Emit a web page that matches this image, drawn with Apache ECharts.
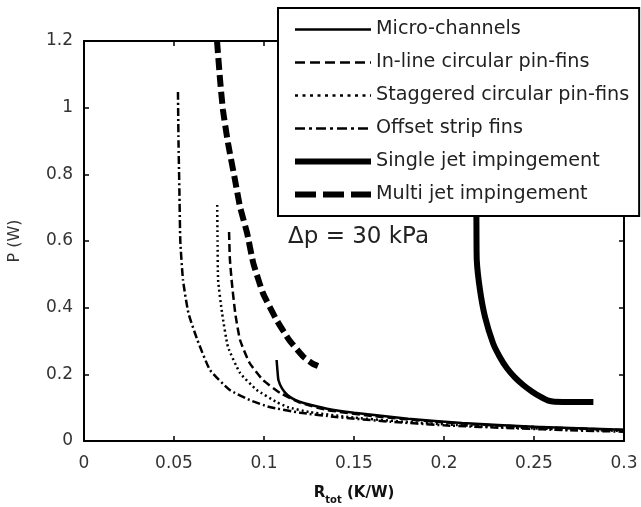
<!DOCTYPE html>
<html>
<head>
<meta charset="utf-8">
<script src="https://cdn.jsdelivr.net/npm/echarts@6/dist/echarts.min.js"></script>
<style>html,body{margin:0;padding:0;background:#fff;}#c{width:641px;height:507px;}</style>
</head>
<body>
<div id="c"></div>
<script>
// Tick labels
var xTicks = [0, 0.05, 0.1, 0.15, 0.2, 0.25, 0.3];
var yTicks = [0, 0.2, 0.4, 0.6, 0.8, 1, 1.2];

// Series names
var seriesNames = ['Micro-channels', 'In-line circular pin-fins', 'Staggered circular pin-fins',
  'Offset strip fins', 'Single jet impingement', 'Multi jet impingement'];

// Series values [R_tot (K/W), P (W)]
var microChannels = [[0.107,0.243],[0.1075,0.21],[0.108,0.183],[0.11,0.158],[0.113,0.138],[0.117,0.124],[0.122,0.114],[0.135,0.097],[0.15,0.085],[0.18,0.067],[0.21,0.054],[0.25,0.043],[0.3,0.034]];
var inlinePinFins = [[0.0806,0.627],[0.081,0.55],[0.082,0.483],[0.084,0.384],[0.0867,0.303],[0.092,0.234],[0.0994,0.183],[0.109,0.144],[0.12,0.115],[0.135,0.093],[0.16,0.075],[0.19,0.06],[0.22,0.049],[0.26,0.04],[0.3,0.033]];
var staggeredPinFins = [[0.074,0.708],[0.0742,0.6],[0.0745,0.483],[0.0767,0.384],[0.08,0.282],[0.0867,0.204],[0.096,0.153],[0.107,0.117],[0.113,0.102],[0.125,0.087],[0.15,0.07],[0.18,0.057],[0.21,0.047],[0.25,0.038],[0.3,0.03]];
var offsetStripFins = [[0.0522,1.047],[0.0525,0.9],[0.053,0.75],[0.0535,0.6],[0.055,0.483],[0.058,0.384],[0.063,0.303],[0.07,0.213],[0.081,0.153],[0.092,0.123],[0.103,0.102],[0.12,0.085],[0.14,0.072],[0.17,0.058],[0.2,0.047],[0.24,0.038],[0.27,0.032],[0.3,0.028]];
var singleJet = [[0.2178,0.72],[0.218,0.672],[0.2182,0.543],[0.22,0.453],[0.2228,0.372],[0.2272,0.294],[0.231,0.252],[0.235,0.218],[0.2395,0.19],[0.244,0.168],[0.249,0.148],[0.2535,0.133],[0.2575,0.122],[0.2615,0.118],[0.283,0.117]];
var multiJet = [[0.0739,1.2],[0.0756,1.083],[0.0772,0.993],[0.08,0.894],[0.0839,0.783],[0.0867,0.702],[0.0906,0.624],[0.094,0.535],[0.0994,0.444],[0.107,0.363],[0.114,0.303],[0.122,0.252],[0.127,0.232],[0.13,0.225]];

var annotation = '\u0394p = 30 kPa';

var chart = echarts.init(document.getElementById('c'), null, {renderer: 'canvas'});
var FONT = 'DejaVu Sans';
function fmt(v){ return String(+v.toFixed(2)); }

var styles = [
  {width: 2.5, type: 'solid'},
  {width: 2.5, type: [8, 4]},
  {width: 2.5, type: [2, 3]},
  {width: 2.5, type: [8, 3, 2, 3]},
  {width: 6, type: 'solid'},
  {width: 6, type: [12, 5]}
];
var legendStyles = [
  {width: 2.5, type: 'solid'},
  {width: 2.5, type: [10, 5]},
  {width: 2.5, type: [3, 4.5]},
  {width: 2.5, type: [10, 4, 3, 4]},
  {width: 6, type: 'solid'},
  {width: 6, type: [21, 7]}
];
var datasets = [microChannels, inlinePinFins, staggeredPinFins, offsetStripFins, singleJet, multiJet];

var series = datasets.map(function(d, i){
  return {
    name: seriesNames[i], type: 'line', data: d, symbol: 'none', smooth: 0.15,
    lineStyle: {color: '#000', width: styles[i].width, type: styles[i].type, cap: 'butt'},
    itemStyle: {color: '#000'}, z: 3, animation: false
  };
});

var axisCommon = {
  axisLine: {show: true, onZero: false, lineStyle: {color: '#000', width: 2}},
  axisTick: {show: true, inside: true, length: 5, lineStyle: {color: '#000', width: 1.5}},
  splitLine: {show: false}
};

chart.setOption({
  backgroundColor: '#fff',
  animation: false,
  grid: {left: 84, right: 17, top: 41, bottom: 66, containLabel: false, outerBoundsMode: 'none'},
  legend: {
    show: true,
    orient: 'vertical', left: 278, top: 8,
    padding: [12, 10, 12, 14],
    itemWidth: 76, itemHeight: 20, itemGap: 14,
    borderColor: '#000', borderWidth: 2, backgroundColor: '#fff',
    textStyle: {fontFamily: FONT, fontSize: 19.2, color: '#222'},
    z: 10,
    data: seriesNames.map(function(n, i){
      return {
        name: n,
        lineStyle: {color: '#000', width: legendStyles[i].width, type: legendStyles[i].type, cap: 'butt'},
        itemStyle: {color: 'rgba(0,0,0,0)', borderColor: 'rgba(0,0,0,0)', borderWidth: 0, opacity: 0}
      };
    })
  },
  xAxis: [
    Object.assign({
      type: 'value', min: 0, max: 0.3, interval: 0.05, position: 'bottom',
      name: '{r|R}{s|tot}{r| (K/W)}', nameLocation: 'middle', nameGap: 45,
      nameTextStyle: {rich: {
        r: {fontFamily: FONT, fontSize: 15, fontWeight: 'bold', color: '#111', verticalAlign: 'bottom'},
        s: {fontFamily: FONT, fontSize: 10, fontWeight: 'bold', color: '#111', verticalAlign: 'bottom', padding: [0, 0, -4, 0]}
      }},
      axisLabel: {margin: 14, fontFamily: FONT, fontSize: 17, color: '#333',
        formatter: function(v){ var i = xTicks.indexOf(+v.toFixed(2)); return i >= 0 ? fmt(xTicks[i]) : ''; }}
    }, axisCommon),
    Object.assign({
      type: 'value', min: 0, max: 0.3, interval: 0.05, position: 'top',
      axisLabel: {show: false}
    }, axisCommon)
  ],
  yAxis: [
    Object.assign({
      type: 'value', min: 0, max: 1.2, interval: 0.2, position: 'left',
      name: 'P (W)', nameLocation: 'middle', nameGap: 61, nameRotate: 90,
      nameTextStyle: {fontFamily: FONT, fontSize: 16, color: '#333'},
      axisLabel: {margin: 11, fontFamily: FONT, fontSize: 17, color: '#333',
        formatter: function(v){ var i = yTicks.indexOf(+v.toFixed(2)); return i >= 0 ? fmt(yTicks[i]) : ''; }}
    }, axisCommon),
    Object.assign({
      type: 'value', min: 0, max: 1.2, interval: 0.2, position: 'right',
      axisLabel: {show: false}
    }, axisCommon)
  ],
  graphic: [{
    type: 'text', left: 288, top: 226, z: 20,
    style: {text: annotation, fontFamily: FONT, fontSize: 23, fill: '#222'}
  }],
  series: series
});
</script>
</body>
</html>
